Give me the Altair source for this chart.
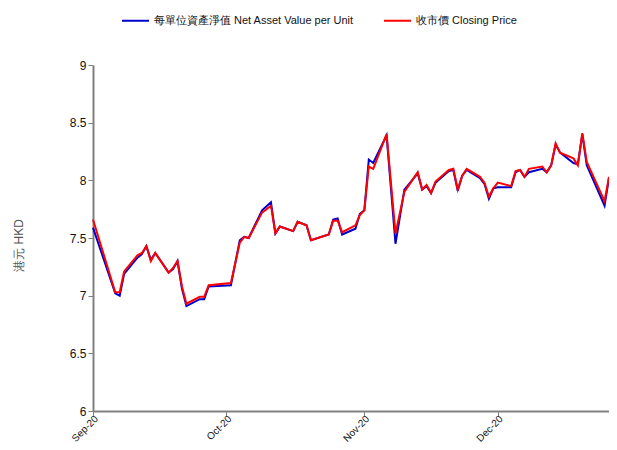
import altair as alt
import pandas as pd

dates = [
    "2020-09-01", "2020-09-06", "2020-09-07", "2020-09-08", "2020-09-11", "2020-09-12",
    "2020-09-13", "2020-09-14", "2020-09-15", "2020-09-18", "2020-09-19", "2020-09-20",
    "2020-09-21", "2020-09-22", "2020-09-25", "2020-09-26", "2020-09-27", "2020-10-02",
    "2020-10-04", "2020-10-05", "2020-10-06", "2020-10-09", "2020-10-11", "2020-10-12",
    "2020-10-13", "2020-10-16", "2020-10-17", "2020-10-19", "2020-10-20", "2020-10-24",
    "2020-10-25", "2020-10-26", "2020-10-27", "2020-10-30", "2020-10-31", "2020-11-01",
    "2020-11-02", "2020-11-03", "2020-11-06", "2020-11-08", "2020-11-10", "2020-11-13",
    "2020-11-14", "2020-11-15", "2020-11-16", "2020-11-17", "2020-11-20", "2020-11-21",
    "2020-11-22", "2020-11-23", "2020-11-24", "2020-11-27", "2020-11-28", "2020-11-29",
    "2020-11-30", "2020-12-01", "2020-12-04", "2020-12-05", "2020-12-06", "2020-12-07",
    "2020-12-08", "2020-12-11", "2020-12-12", "2020-12-13", "2020-12-14", "2020-12-15",
    "2020-12-18", "2020-12-19", "2020-12-20", "2020-12-21", "2020-12-25", "2020-12-26",
]

closing_price = [
    7.66, 7.03, 7.03, 7.21, 7.35, 7.37,
    7.43, 7.30, 7.37, 7.20, 7.24, 7.30,
    7.08, 6.93, 6.99, 6.99, 7.09, 7.11,
    7.46, 7.51, 7.50, 7.72, 7.78, 7.54,
    7.60, 7.56, 7.64, 7.61, 7.48, 7.53,
    7.65, 7.65, 7.55, 7.61, 7.70, 7.74,
    8.12, 8.10, 8.40, 7.54, 7.90, 8.07,
    7.92, 7.96, 7.89, 7.99, 8.09, 8.10,
    7.92, 8.04, 8.10, 8.03, 7.98, 7.86,
    7.93, 7.98, 7.95, 8.08, 8.09, 8.03,
    8.10, 8.12, 8.07, 8.13, 8.32, 8.24,
    8.19, 8.13, 8.41, 8.16, 7.82, 8.03,
]

nav_per_unit = [
    7.59, 7.02, 7.00, 7.19, 7.33, 7.36,
    7.43, 7.31, 7.37, 7.20, 7.23, 7.30,
    7.06, 6.91, 6.97, 6.97, 7.08, 7.09,
    7.48, 7.51, 7.50, 7.74, 7.81, 7.54,
    7.60, 7.56, 7.64, 7.61, 7.48, 7.53,
    7.66, 7.67, 7.53, 7.58, 7.71, 7.74,
    8.18, 8.15, 8.39, 7.45, 7.92, 8.06,
    7.92, 7.95, 7.89, 7.98, 8.08, 8.09,
    7.91, 8.04, 8.09, 8.02, 7.97, 7.84,
    7.93, 7.94, 7.94, 8.07, 8.09, 8.03,
    8.07, 8.10, 8.07, 8.13, 8.31, 8.24,
    8.15, 8.14, 8.40, 8.13, 7.78, 8.02,
]

series_names = ["每單位資產淨值 Net Asset Value per Unit", "收市價 Closing Price"]
series_colors = ["#0000cc", "#ff0000"]
y_ticks = [6, 6.5, 7, 7.5, 8, 8.5, 9]

df = pd.DataFrame({"date": dates, "nav": nav_per_unit, "close": closing_price})

FONT = "Liberation Sans, Arial, sans-serif"

month_ticks = [
    alt.DateTime(year=2020, month=m, date=1, utc=True) for m in [9, 10, 11, 12]
]

x_enc = alt.X(
    "date:T",
    scale=alt.Scale(type="utc", domain=["2020-09-01", "2020-12-26"]),
    axis=alt.Axis(
        values=month_ticks,
        labelExpr="utcFormat(datum.value, '%b-%y')",
        labelAngle=-45,
        labelAlign="right",
        labelBaseline="middle",
        labelPadding=1,
        labelOffset=3,
        labelFontSize=10,
        title=None,
        grid=False,
    ),
)

color_enc = alt.Color(
    "series:N",
    scale=alt.Scale(domain=series_names, range=series_colors),
    legend=alt.Legend(
        title=None,
        orient="none",
        legendX=28,
        legendY=-59,
        direction="horizontal",
        symbolType="stroke",
        symbolSize=729,
        symbolStrokeWidth=2,
        labelFontSize=11,
        labelFont=FONT,
        labelColor="#111111",
        labelLimit=0,
        columnPadding=26,
        labelOffset=4,
    ),
)

base = alt.Chart(df)

nav_line = (
    base.transform_calculate(series=f"'{series_names[0]}'")
    .mark_line(strokeWidth=2)
    .encode(
        x=x_enc,
        y=alt.Y(
            "nav:Q",
            scale=alt.Scale(domain=[6, 9]),
            axis=alt.Axis(
                values=y_ticks,
                format=".1~f",
                title="港元 HKD",
                titleX=-75,
                titleY=180,
                titleAngle=-90,
                titleAlign="center",
                titleBaseline="middle",
                titleColor="#555555",
                titleFontWeight="normal",
                grid=False,
            ),
        ),
        color=color_enc,
    )
)

close_line = (
    base.transform_calculate(series=f"'{series_names[1]}'")
    .mark_line(strokeWidth=2)
    .encode(
        x=x_enc,
        y=alt.Y("close:Q"),
        color=color_enc,
    )
)

chart = (
    alt.layer(nav_line, close_line)
    .properties(
        width=516,
        height=346,
        autosize=alt.AutoSizeParams(type="none"),
        padding={"left": 85, "top": 57, "right": 0, "bottom": 31},
    )
    .configure_view(stroke=None)
    .configure_axis(
        domainColor="#808080",
        domainWidth=2,
        tickColor="#808080",
        tickSize=5,
        labelFont=FONT,
        labelFontSize=12,
        labelColor="#111111",
        titleFont=FONT,
        titleFontSize=12,
    )
)

chart.save("out.html", embed_options={"renderer": "svg", "actions": False})
